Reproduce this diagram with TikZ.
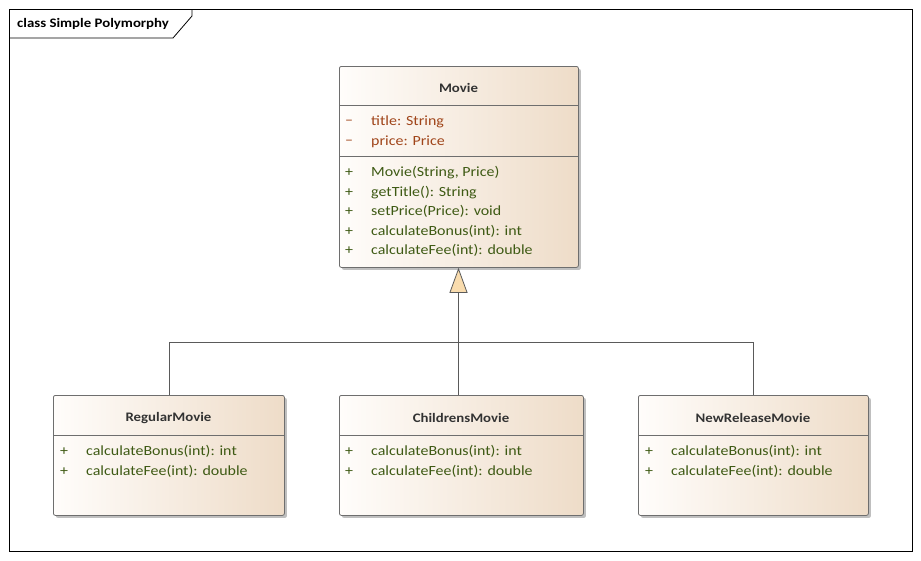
\documentclass[tikz,border=0pt]{standalone}
\usepackage{fontspec}
\setmainfont{Carlito}[FakeStretch=1.14]
\usetikzlibrary{arrows.meta,shadows}
\definecolor{boxline}{HTML}{6E6E6E}
\definecolor{connline}{HTML}{5A5A5A}
\definecolor{fillL}{HTML}{FFFDFB}
\definecolor{fillR}{HTML}{EEDCC8}
\definecolor{attrcol}{HTML}{A0451A}
\definecolor{opcol}{HTML}{3E5A14}
\definecolor{namecol}{HTML}{333333}
\definecolor{trifill}{HTML}{F9DCAE}
\begin{document}
\begin{tikzpicture}[x=1pt,y=-1pt,
  font=\fontsize{14}{16}\selectfont,
  classbox/.style={draw=boxline, line width=0.8pt, rounded corners=2pt,
    left color=fillL, right color=fillR, anchor=north west, inner sep=0pt,
    drop shadow={shadow xshift=2.5pt, shadow yshift=-2.5pt, fill=black, opacity=0.25}},
  sepline/.style={draw=boxline, line width=0.8pt},
  cname/.style={font=\fontsize{13}{15}\selectfont\bfseries, text=namecol, yshift=-1pt},
  attr/.style={anchor=west, inner sep=0pt, text=attrcol, yshift=-1.5pt},
  oper/.style={anchor=west, inner sep=0pt, text=opcol, yshift=-1.5pt},
  privmark/.style={anchor=west, inner sep=0pt, text=attrcol, yshift=-2.5pt},
  conn/.style={draw=connline, line width=0.8pt}
]
\useasboundingbox (0,0) rectangle (921,560);
\fill[white] (0,0) rectangle (921,560);

% diagram frame with its name tab
\draw[black, line width=0.8pt] (9,9) rectangle (912,551);
\draw[black, line width=0.8pt] (192,9) -- (192,16) -- (173,38) -- (9,38);
\node[anchor=west, inner sep=0pt, font=\fontsize{13}{15}\selectfont\bfseries, text=black, yshift=-1pt] (frametitle) at (17,23) {class Simple Polymorphy};

% Movie
\node[classbox, minimum width=239pt, minimum height=201pt] (movie) at (339,66) {};
\node[cname] (moviename) at (458.5,87) {Movie};
\draw[sepline] (339,105) -- (578,105);
\draw[sepline] (339,156) -- (578,156);
\node[privmark] (ma1v) at (345,120) {–};
\node[attr] (ma1) at (371,120) {title: String};
\node[privmark] (ma2v) at (345,140) {–};
\node[attr] (ma2) at (371,140) {price: Price};
\node[oper] (mo1v) at (345,171) {+};
\node[oper] (mo1) at (371,171) {Movie(String, Price)};
\node[oper] (mo2v) at (345,191) {+};
\node[oper] (mo2) at (371,191) {getTitle(): String};
\node[oper] (mo3v) at (345,210) {+};
\node[oper] (mo3) at (371,210) {setPrice(Price): void};
\node[oper] (mo4v) at (345,230) {+};
\node[oper] (mo4) at (371,230) {calculateBonus(int): int};
\node[oper] (mo5v) at (345,249) {+};
\node[oper] (mo5) at (371,249) {calculateFee(int): double};

% RegularMovie
\node[classbox, minimum width=231pt, minimum height=120pt] (regular) at (53,395) {};
\node[cname] (regularname) at (168.5,417) {RegularMovie};
\draw[sepline] (53,435) -- (284,435);
\node[oper] (ro1v) at (60,450) {+};
\node[oper] (ro1) at (86,450) {calculateBonus(int): int};
\node[oper] (ro2v) at (60,470) {+};
\node[oper] (ro2) at (86,470) {calculateFee(int): double};

% ChildrensMovie
\node[classbox, minimum width=244pt, minimum height=120pt] (children) at (339,395) {};
\node[cname] (childrenname) at (461,417) {ChildrensMovie};
\draw[sepline] (339,435) -- (583,435);
\node[oper] (co1v) at (345,450) {+};
\node[oper] (co1) at (371,450) {calculateBonus(int): int};
\node[oper] (co2v) at (345,470) {+};
\node[oper] (co2) at (371,470) {calculateFee(int): double};

% NewReleaseMovie
\node[classbox, minimum width=230pt, minimum height=120pt] (newrel) at (638,395) {};
\node[cname] (newrelname) at (753,417) {NewReleaseMovie};
\draw[sepline] (638,435) -- (868,435);
\node[oper] (no1v) at (645,450) {+};
\node[oper] (no1) at (671,450) {calculateBonus(int): int};
\node[oper] (no2v) at (645,470) {+};
\node[oper] (no2) at (671,470) {calculateFee(int): double};

% generalization tree
\coordinate (join) at (458.5,342);
\draw[conn] (regular.north) |- (join);
\draw[conn] (newrel.north) |- (join);
\draw[conn] (children.north -| join) -- (join);
\draw[conn, -{Triangle[length=25pt, width=18pt, fill=trifill]}] (join) -- (join |- movie.south);
\end{tikzpicture}
\end{document}
